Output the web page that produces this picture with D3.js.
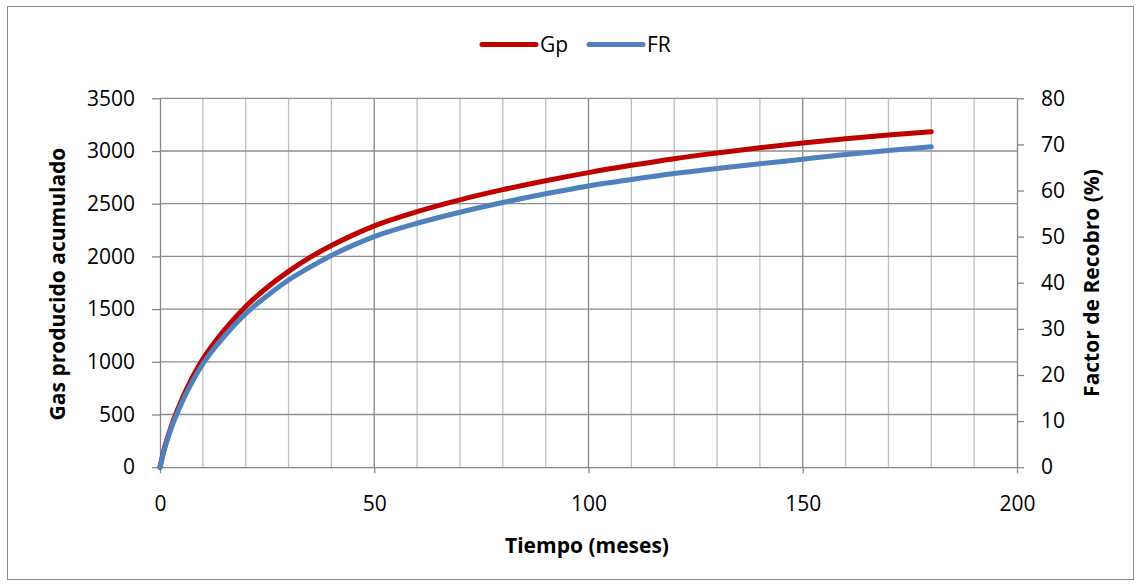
<!DOCTYPE html>
<html>
<head>
<meta charset="utf-8">
<script src="https://cdn.jsdelivr.net/npm/d3@7"></script>
<style>
  html, body { margin: 0; padding: 0; background: #fff; }
  svg { display: block; font-family: "Open Sans", "Noto Sans", sans-serif; }
</style>
</head>
<body>
<svg id="chart" width="1140" height="588"></svg>
<script>
// Time in months
const months = [0, 1, 2, 3, 4, 5, 6, 7, 8, 9, 10, 12, 15, 20, 25, 30, 35, 40, 45, 50,
                60, 70, 80, 90, 100, 110, 120, 130, 140, 150, 160, 170, 180];
// Cumulative gas produced (left axis)
const gp = [0, 175, 310, 430, 537, 634, 724, 808, 886, 958, 1025, 1143, 1300, 1525, 1705, 1858, 1990, 2103, 2202, 2290,
            2425, 2537, 2633, 2718, 2795, 2864, 2927, 2981, 3031, 3076, 3116, 3151, 3183];
// Recovery factor in percent (right axis)
const fr = [0, 3.8, 6.8, 9.4, 11.7, 13.8, 15.8, 17.6, 19.3, 20.9, 22.4, 25.0, 28.4, 33.3, 37.2, 40.6, 43.4, 45.9, 48.1, 50.0,
            52.9, 55.3, 57.4, 59.3, 61.0, 62.4, 63.7, 64.8, 65.8, 66.8, 67.8, 68.7, 69.5];

const xTicks = [0, 50, 100, 150, 200];
const xMinorTicks = d3.range(0, 201, 10);
const leftTicks = [0, 500, 1000, 1500, 2000, 2500, 3000, 3500];
const rightTicks = [0, 10, 20, 30, 40, 50, 60, 70, 80];

const seriesNames = ["Gp", "FR"];
const colors = { Gp: "#C00000", FR: "#4F81BD" };

const svg = d3.select("#chart");
const plot = { left: 160, right: 1017, top: 98.3, bottom: 467.2 };

const x = d3.scaleLinear().domain([0, 200]).range([plot.left, plot.right]);
const yL = d3.scaleLinear().domain([0, 3500]).range([plot.bottom, plot.top]);
const yR = d3.scaleLinear().domain([0, 80]).range([plot.bottom, plot.top]);
const fmt = d3.format("d");

// outer frame
svg.append("rect")
  .attr("x", 7.5).attr("y", 6.5).attr("width", 1126).attr("height", 573)
  .attr("fill", "#fff").attr("stroke", "#8a8a8a").attr("stroke-width", 1);

// gridlines
const grid = svg.append("g");
grid.selectAll("line.minor")
  .data(xMinorTicks.filter(d => d % 50 !== 0))
  .join("line")
  .attr("x1", d => x(d)).attr("x2", d => x(d))
  .attr("y1", plot.top).attr("y2", plot.bottom)
  .attr("stroke", "#c0c0c0").attr("stroke-width", 1.3);
grid.selectAll("line.major")
  .data(xTicks.filter(d => d > 0 && d < 200))
  .join("line")
  .attr("x1", d => x(d)).attr("x2", d => x(d))
  .attr("y1", plot.top).attr("y2", plot.bottom)
  .attr("stroke", "#878787").attr("stroke-width", 1.3);
grid.selectAll("line.h")
  .data(leftTicks.filter(d => d > 0))
  .join("line")
  .attr("x1", plot.left).attr("x2", plot.right)
  .attr("y1", d => yL(d)).attr("y2", d => yL(d))
  .attr("stroke", "#8e8e8e").attr("stroke-width", 1.3);

// axes
function styleAxis(g) {
  g.select(".domain").attr("stroke", "#878787").attr("stroke-width", 1.3);
  g.selectAll(".tick line").attr("stroke", "#878787").attr("stroke-width", 1.3);
  g.selectAll(".tick text").attr("fill", "#000").style("font-size", "21px")
    .style("font-family", '"Open Sans", sans-serif');
}

svg.append("g")
  .attr("transform", `translate(0,${plot.bottom})`)
  .call(d3.axisBottom(x).tickValues(xTicks).tickFormat(fmt).tickSize(6).tickPadding(23).tickSizeOuter(0))
  .call(styleAxis);

svg.append("g")
  .attr("transform", `translate(${plot.left},0)`)
  .call(d3.axisLeft(yL).tickValues(leftTicks).tickFormat(fmt).tickSize(8).tickPadding(17).tickSizeOuter(0))
  .call(styleAxis);

svg.append("g")
  .attr("transform", `translate(${plot.right},0)`)
  .call(d3.axisRight(yR).tickValues(rightTicks).tickFormat(fmt).tickSize(7).tickPadding(17).tickSizeOuter(0))
  .call(styleAxis);

// series lines
const lineGp = d3.line().x((d, i) => x(months[i])).y(d => yL(d)).curve(d3.curveMonotoneX);
const lineFr = d3.line().x((d, i) => x(months[i])).y(d => yR(d)).curve(d3.curveMonotoneX);

svg.append("path").datum(gp)
  .attr("d", lineGp).attr("fill", "none")
  .attr("stroke", colors.Gp).attr("stroke-width", 5)
  .attr("stroke-linecap", "round").attr("stroke-linejoin", "round");
svg.append("path").datum(fr)
  .attr("d", lineFr).attr("fill", "none")
  .attr("stroke", colors.FR).attr("stroke-width", 5)
  .attr("stroke-linecap", "round").attr("stroke-linejoin", "round");

// axis titles
svg.append("text")
  .attr("x", 587).attr("y", 553).attr("text-anchor", "middle")
  .style("font-size", "21px").style("font-weight", "bold")
  .text("Tiempo (meses)");
svg.append("text")
  .attr("transform", "translate(65,284) rotate(-90)").attr("text-anchor", "middle")
  .style("font-size", "21px").style("font-weight", "bold")
  .text("Gas producido acumulado");
svg.append("text")
  .attr("transform", "translate(1099,283) rotate(-90)").attr("text-anchor", "middle")
  .style("font-size", "21px").style("font-weight", "bold")
  .text("Factor de Recobro (%)");

// legend
const legend = svg.append("g");
const legendPos = { Gp: 482, FR: 589 };
seriesNames.forEach(name => {
  const lx = legendPos[name];
  legend.append("line")
    .attr("x1", lx).attr("x2", lx + 54).attr("y1", 44.5).attr("y2", 44.5)
    .attr("stroke", colors[name]).attr("stroke-width", 5).attr("stroke-linecap", "round");
  legend.append("text")
    .attr("x", lx + 58).attr("y", 52)
    .style("font-size", "21px")
    .text(name);
});
</script>
</body>
</html>
